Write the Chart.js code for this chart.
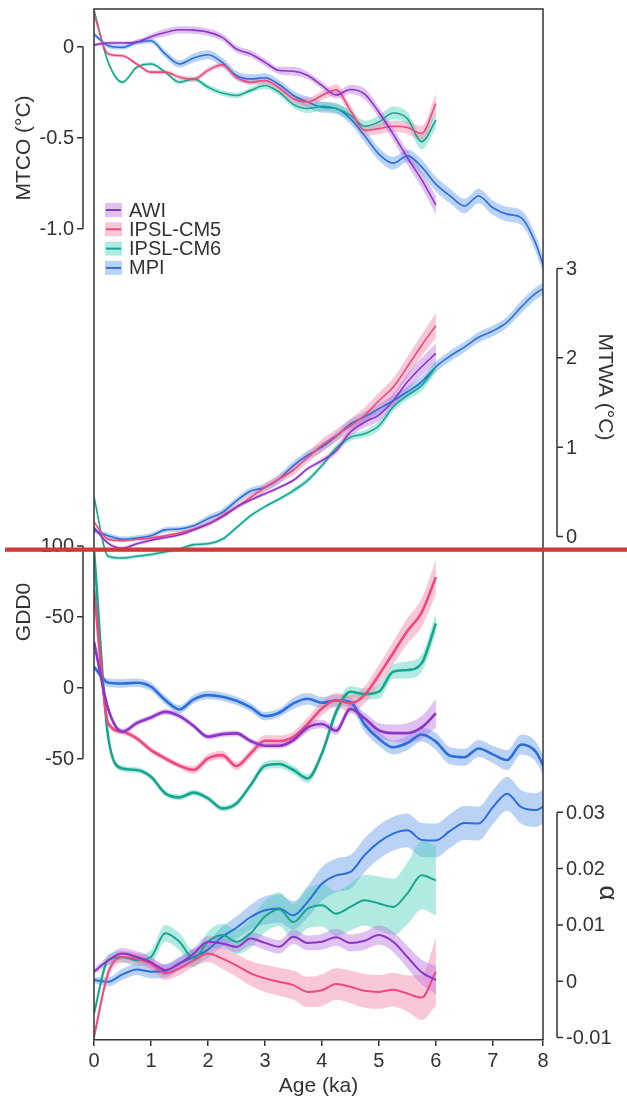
<!DOCTYPE html>
<html>
<head>
<meta charset="utf-8">
<script src="https://cdn.jsdelivr.net/npm/chart.js@4.4.0/dist/chart.umd.min.js"></script>
<style>
  html, body { margin: 0; padding: 0; background: #fff; }
  canvas { display: block; }
</style>
</head>
<body>
<canvas id="chart" width="627" height="1101"></canvas>
<script>
// Age axis (ka)
const ages6 = [0, 0.25, 0.5, 0.75, 1, 1.25, 1.5, 1.75, 2, 2.25, 2.5, 2.75, 3, 3.25, 3.5, 3.75, 4, 4.25, 4.5, 4.75, 5, 5.25, 5.5, 5.75, 6];
const ages8 = [0, 0.25, 0.5, 0.75, 1, 1.25, 1.5, 1.75, 2, 2.25, 2.5, 2.75, 3, 3.25, 3.5, 3.75, 4, 4.25, 4.5, 4.75, 5, 5.25, 5.5, 5.75, 6, 6.25, 6.5, 6.75, 7, 7.25, 7.5, 7.75, 8];

// MTCO (°C)
const mtcoAWI = [0.01, 0.02, 0.02, 0.025, 0.055, 0.078, 0.093, 0.091, 0.08, 0.051, -0.013, -0.04, -0.086, -0.131, -0.135, -0.158, -0.213, -0.265, -0.235, -0.26, -0.36, -0.48, -0.61, -0.73, -0.87];
const mtcoCM5 = [0.18, -0.04, -0.05, -0.095, -0.14, -0.14, -0.168, -0.18, -0.13, -0.10, -0.168, -0.195, -0.186, -0.226, -0.286, -0.304, -0.268, -0.237, -0.35, -0.46, -0.45, -0.437, -0.444, -0.477, -0.313];
const mtcoCM6 = [0.2, -0.086, -0.195, -0.113, -0.095, -0.14, -0.195, -0.177, -0.222, -0.255, -0.268, -0.24, -0.213, -0.25, -0.317, -0.34, -0.328, -0.34, -0.377, -0.437, -0.413, -0.364, -0.395, -0.523, -0.404];
const mtcoMPI = [0.069, 0.005, -0.004, 0.024, 0.033, -0.04, -0.095, -0.062, -0.044, -0.086, -0.158, -0.177, -0.171, -0.208, -0.268, -0.304, -0.332, -0.34, -0.395, -0.49, -0.59, -0.64, -0.60, -0.66, -0.755, -0.82, -0.875, -0.82, -0.885, -0.92, -0.94, -1.08, -1.32];
const mtcoAWIs = [0.01, 0.01, 0.01, 0.012, 0.015, 0.02, 0.02, 0.02, 0.02, 0.02, 0.02, 0.02, 0.02, 0.02, 0.025, 0.02, 0.02, 0.02, 0.025, 0.03, 0.03, 0.035, 0.04, 0.045, 0.05];
const mtcoCM5s = [0.01, 0.01, 0.01, 0.01, 0.01, 0.012, 0.012, 0.015, 0.015, 0.015, 0.015, 0.015, 0.02, 0.02, 0.02, 0.025, 0.025, 0.03, 0.03, 0.03, 0.03, 0.03, 0.035, 0.04, 0.055];
const mtcoCM6s = [0.01, 0.01, 0.01, 0.01, 0.01, 0.01, 0.012, 0.012, 0.015, 0.015, 0.015, 0.015, 0.02, 0.02, 0.02, 0.025, 0.025, 0.025, 0.03, 0.03, 0.035, 0.035, 0.035, 0.04, 0.045];
const mtcoMPIs = [0.01, 0.012, 0.012, 0.015, 0.015, 0.02, 0.02, 0.025, 0.025, 0.025, 0.025, 0.025, 0.025, 0.025, 0.025, 0.03, 0.03, 0.03, 0.03, 0.035, 0.035, 0.035, 0.035, 0.04, 0.04, 0.04, 0.04, 0.04, 0.04, 0.04, 0.04, 0.045, 0.045];

// MTWA (°C)
const mtwaAWI = [0.10, -0.075, -0.13, -0.08, -0.04, -0.01, 0.02, 0.075, 0.14, 0.22, 0.33, 0.41, 0.48, 0.55, 0.63, 0.76, 0.85, 0.96, 1.17, 1.28, 1.36, 1.52, 1.73, 1.90, 2.05];
const mtwaCM5 = [0.16, -0.03, -0.045, -0.03, -0.015, 0.01, 0.04, 0.085, 0.14, 0.235, 0.33, 0.44, 0.55, 0.645, 0.745, 0.885, 1.02, 1.13, 1.24, 1.355, 1.52, 1.67, 1.90, 2.14, 2.36];
const mtwaCM6 = [0.44, -0.22, -0.24, -0.22, -0.2, -0.17, -0.14, -0.09, -0.08, -0.03, 0.10, 0.235, 0.335, 0.42, 0.515, 0.63, 0.795, 0.99, 1.11, 1.15, 1.24, 1.45, 1.58, 1.69, 1.90];
const mtwaMPI = [0.07, 0.01, -0.03, -0.015, 0.01, 0.075, 0.085, 0.12, 0.2, 0.27, 0.40, 0.51, 0.55, 0.645, 0.795, 0.91, 1.0, 1.12, 1.26, 1.34, 1.43, 1.52, 1.62, 1.73, 1.90, 2.02, 2.12, 2.23, 2.30, 2.40, 2.57, 2.72, 2.81];
const mtwaAWIs = [0.02, 0.02, 0.02, 0.02, 0.02, 0.02, 0.02, 0.02, 0.02, 0.02, 0.02, 0.02, 0.02, 0.02, 0.02, 0.02, 0.03, 0.04, 0.05, 0.06, 0.07, 0.08, 0.09, 0.1, 0.11];
const mtwaCM5s = [0.02, 0.02, 0.02, 0.02, 0.02, 0.02, 0.02, 0.02, 0.03, 0.03, 0.03, 0.04, 0.05, 0.05, 0.06, 0.06, 0.07, 0.07, 0.08, 0.09, 0.09, 0.1, 0.11, 0.12, 0.14];
const mtwaCM6s = [0.02, 0.02, 0.02, 0.02, 0.02, 0.02, 0.02, 0.02, 0.02, 0.02, 0.02, 0.02, 0.02, 0.02, 0.03, 0.03, 0.03, 0.04, 0.04, 0.04, 0.05, 0.05, 0.05, 0.06, 0.06];
const mtwaMPIs = [0.03, 0.03, 0.03, 0.03, 0.03, 0.03, 0.03, 0.03, 0.04, 0.04, 0.04, 0.04, 0.04, 0.05, 0.05, 0.05, 0.05, 0.05, 0.05, 0.06, 0.06, 0.06, 0.06, 0.06, 0.06, 0.06, 0.06, 0.06, 0.06, 0.06, 0.07, 0.07, 0.07];

// GDD0
const gddAWI = [32.4, -15, -31, -25, -21, -17, -20, -27, -34.6, -32.7, -32.2, -37.6, -40.9, -40.9, -36.9, -28, -25.6, -30.3, -15, -21.5, -30, -32, -32, -28, -18];
const gddCM5 = [68.9, -25, -31, -35.7, -44, -49.8, -55, -58, -49.8, -47.5, -55.2, -46.3, -37.4, -37.6, -34.6, -25.6, -14.6, -8.7, -11, -5, 9, 24.5, 40, 53, 78];
const gddCM6 = [97, -35, -57, -58, -62.8, -74.5, -77.3, -74, -78, -85.1, -81.6, -68.6, -55, -53.8, -58, -64, -46.3, -17, -2.8, -4.5, -2.8, 11.3, 12.5, 17.2, 45.4];
const gddMPI = [14.8, 3.5, 3, 3.5, 0.7, -8.7, -15.3, -8.2, -5.2, -6.3, -9.2, -13.9, -20, -17.6, -11, -7.8, -10.6, -9, -10, -26, -36, -42, -39, -33, -38, -48, -49, -42.8, -47, -51, -40, -45, -65];
const gddAWIs = [1, 2, 2, 2, 2, 2, 2, 2, 2, 2, 2, 2, 2, 2, 2, 3, 3, 3, 3, 4, 5, 6, 7, 8, 10];
const gddCM5s = [1, 2, 2, 2, 2, 2, 2, 3, 3, 3, 3, 3, 4, 4, 4, 5, 5, 5, 6, 6, 7, 8, 9, 10, 12];
const gddCM6s = [1, 2, 2, 2, 2, 2, 2, 2, 2, 2, 2, 2, 3, 3, 3, 3, 3, 4, 4, 4, 5, 5, 6, 6, 7];
const gddMPIs = [2, 3, 3, 3, 3, 3, 3, 3, 3, 3, 3, 3, 3, 3, 4, 4, 4, 4, 4, 5, 5, 5, 5, 5, 6, 6, 6, 6, 6, 7, 7, 7, 7];

// alpha
const alphaAWI = [0.0017, 0.0037, 0.0049, 0.0043, 0.0034, 0.002, 0.0031, 0.0049, 0.007, 0.0067, 0.0061, 0.0076, 0.0068, 0.0061, 0.0079, 0.0068, 0.007, 0.0078, 0.0068, 0.0072, 0.0082, 0.007, 0.0043, 0.0016, 0.0002];
const alphaCM5 = [-0.0099, 0.0015, 0.0043, 0.004, 0.0031, 0.0014, 0.0023, 0.0037, 0.0049, 0.004, 0.0028, 0.0014, 0.0005, -0.0001, -0.0007, -0.0019, -0.0016, -0.0005, -0.001, -0.0017, -0.0019, -0.0015, -0.0022, -0.0029, 0.0017];
const alphaCM6 = [-0.0057, 0.0038, 0.0043, 0.0037, 0.0043, 0.0085, 0.007, 0.004, 0.007, 0.0082, 0.007, 0.0085, 0.0115, 0.0128, 0.0105, 0.0129, 0.0135, 0.012, 0.0132, 0.0144, 0.0138, 0.0132, 0.0156, 0.0188, 0.0179];
const alphaMPI = [0.0002, -0.0001, 0.0012, 0.0021, 0.0017, 0.0018, 0.0032, 0.0043, 0.0056, 0.0079, 0.0095, 0.0114, 0.0126, 0.0129, 0.0117, 0.0141, 0.0173, 0.0188, 0.0194, 0.0224, 0.0247, 0.0262, 0.0268, 0.0251, 0.025, 0.0267, 0.0281, 0.028, 0.0309, 0.0333, 0.0309, 0.0304, 0.032];
const alphaAWIs = [0.0005, 0.0008, 0.001, 0.001, 0.001, 0.001, 0.001, 0.001, 0.001, 0.001, 0.001, 0.0012, 0.0012, 0.0012, 0.0013, 0.0013, 0.0014, 0.0015, 0.0015, 0.0016, 0.0017, 0.0018, 0.002, 0.0022, 0.0025];
const alphaCM5s = [0.0005, 0.001, 0.001, 0.001, 0.001, 0.0012, 0.0012, 0.0012, 0.0015, 0.0018, 0.002, 0.0022, 0.0024, 0.0025, 0.0026, 0.0027, 0.0028, 0.0028, 0.0029, 0.003, 0.003, 0.003, 0.0032, 0.004, 0.006];
const alphaCM6s = [0.0005, 0.001, 0.001, 0.001, 0.0012, 0.0015, 0.0015, 0.0015, 0.0018, 0.002, 0.0022, 0.0025, 0.0028, 0.003, 0.0032, 0.0035, 0.0038, 0.004, 0.0042, 0.0045, 0.0048, 0.005, 0.0055, 0.006, 0.0062];
const alphaMPIs = [0.0005, 0.0008, 0.001, 0.001, 0.0012, 0.0012, 0.0012, 0.0015, 0.0015, 0.0018, 0.002, 0.0022, 0.0025, 0.0025, 0.0025, 0.0028, 0.003, 0.003, 0.003, 0.003, 0.003, 0.003, 0.003, 0.003, 0.003, 0.003, 0.003, 0.003, 0.003, 0.003, 0.003, 0.003, 0.003];

const modelNames = ['AWI', 'IPSL-CM5', 'IPSL-CM6', 'MPI'];
const lineColors = ['#8c35c6', '#f0487c', '#16a68e', '#2b6fdc'];
const bandColors = ['rgba(180,110,225,0.42)', 'rgba(244,130,168,0.45)', 'rgba(70,205,180,0.42)', 'rgba(100,155,235,0.45)'];

// tick labels
const xMax = 7.88; // the "8" tick of the original sits on the right frame edge
const xTickValues = [0, 1, 2, 3, 4, 5, 6, 7, xMax];
const xTickLabels = ['0', '1', '2', '3', '4', '5', '6', '7', '8'];
const mtcoTicks = [0, -0.5, -1.0];
const mtcoTickLabels = ['0', '-0.5', '-1.0'];
const mtwaTicks = [3, 2, 1, 0];
const mtwaTickLabels = ['3', '2', '1', '0'];
const gddTicks = [100, 50, 0, -50];
const gddTickLabels = ['100', '-50', '0', '-50'];
const alphaTicks = [0.03, 0.02, 0.01, 0, -0.01];
const alphaTickLabels = ['0.03', '0.02', '0.01', '0', '-0.01'];

const FONT = "'Liberation Sans', Arial, sans-serif";
const INK = '#333';

var panels = [
    { axis: 'yMTCO', width: 1.6, series: [[ages6, mtcoAWI, mtcoAWIs], [ages6, mtcoCM5, mtcoCM5s], [ages6, mtcoCM6, mtcoCM6s], [ages8, mtcoMPI, mtcoMPIs]] },
    { axis: 'yMTWA', width: 1.6, series: [[ages6, mtwaAWI, mtwaAWIs], [ages6, mtwaCM5, mtwaCM5s], [ages6, mtwaCM6, mtwaCM6s], [ages8, mtwaMPI, mtwaMPIs]] },
    { axis: 'yGDD', width: 2.6, series: [[ages6, gddAWI, gddAWIs], [ages6, gddCM5, gddCM5s], [ages6, gddCM6, gddCM6s], [ages8, gddMPI, gddMPIs]] },
    { axis: 'yAlpha', width: 2.0, series: [[ages6, alphaAWI, alphaAWIs], [ages6, alphaCM5, alphaCM5s], [ages6, alphaCM6, alphaCM6s], [ages8, alphaMPI, alphaMPIs]] }
];

var datasets = [];
panels.forEach(function (p) {
    p.series.forEach(function (s, m) {
        var xs = s[0], vals = s[1], spread = s[2];
        // upper edge of the band
        datasets.push({
            data: xs.map((a, i) => ({ x: a, y: vals[i] + spread[i] })),
            yAxisID: p.axis, borderColor: 'rgba(0,0,0,0)', borderWidth: 0, pointRadius: 0,
            fill: false, cubicInterpolationMode: 'monotone', order: 2
        });
        // lower edge, filled up to the previous dataset
        datasets.push({
            data: xs.map((a, i) => ({ x: a, y: vals[i] - spread[i] })),
            yAxisID: p.axis, borderColor: 'rgba(0,0,0,0)', borderWidth: 0, pointRadius: 0,
            fill: '-1', backgroundColor: bandColors[m], cubicInterpolationMode: 'monotone', order: 2
        });
        datasets.push({
            label: modelNames[m],
            data: xs.map((a, i) => ({ x: a, y: vals[i] })),
            yAxisID: p.axis, borderColor: lineColors[m], borderWidth: p.width, pointRadius: 0,
            fill: false, cubicInterpolationMode: 'monotone', order: 1
        });
    });
});

// brackets, frame, legend, titles and the red rule
var decorations = {
    id: 'decorations',
    afterDraw: function (chart) {
        const ctx = chart.ctx;
        const area = chart.chartArea;
        ctx.save();

        // frame: left, top, right
        ctx.strokeStyle = INK;
        ctx.lineWidth = 1.5;
        ctx.beginPath();
        ctx.moveTo(area.left, area.bottom);
        ctx.lineTo(area.left, area.top);
        ctx.lineTo(area.right, area.top);
        ctx.lineTo(area.right, area.bottom);
        ctx.stroke();

        function bracket(scaleId, ticks, labels, side, x) {
            const scale = chart.scales[scaleId];
            const y0 = scale.getPixelForValue(ticks[0]);
            const y1 = scale.getPixelForValue(ticks[ticks.length - 1]);
            const dir = side === 'left' ? -1 : 1;
            ctx.strokeStyle = INK;
            ctx.lineWidth = 1.5;
            ctx.beginPath();
            ctx.moveTo(x, y0);
            ctx.lineTo(x, y1);
            ticks.forEach(function (t) {
                const y = scale.getPixelForValue(t);
                ctx.moveTo(x, y);
                ctx.lineTo(x + dir * 6, y);
            });
            ctx.stroke();
            ctx.fillStyle = INK;
            ctx.font = '20px ' + FONT;
            ctx.textBaseline = 'middle';
            ctx.textAlign = side === 'left' ? 'right' : 'left';
            ticks.forEach(function (t, i) {
                ctx.fillText(labels[i], x + dir * 9, scale.getPixelForValue(t) + 1);
            });
        }
        bracket('yMTCO', mtcoTicks, mtcoTickLabels, 'left', 83);
        bracket('yGDD', gddTicks, gddTickLabels, 'left', 83);
        bracket('yMTWA', mtwaTicks, mtwaTickLabels, 'right', 557);
        bracket('yAlpha', alphaTicks, alphaTickLabels, 'right', 557);

        function vtitle(text, x, y, angle, size) {
            ctx.save();
            ctx.translate(x, y);
            ctx.rotate(angle);
            ctx.fillStyle = INK;
            ctx.font = size + 'px ' + FONT;
            ctx.textAlign = 'center';
            ctx.textBaseline = 'middle';
            ctx.fillText(text, 0, 0);
            ctx.restore();
        }
        vtitle('MTCO (°C)', 24, 148, -Math.PI / 2, 21);
        vtitle('GDD0', 24, 612, -Math.PI / 2, 21);
        vtitle('MTWA (°C)', 605, 387, Math.PI / 2, 21);
        vtitle('α', 607, 893, Math.PI / 2, 26);

        // legend
        modelNames.forEach(function (name, i) {
            const cy = 210 + i * 19.3;
            ctx.fillStyle = bandColors[i];
            ctx.fillRect(105, cy - 7, 17, 14);
            ctx.strokeStyle = lineColors[i];
            ctx.lineWidth = 2;
            ctx.beginPath();
            ctx.moveTo(106, cy);
            ctx.lineTo(121, cy);
            ctx.stroke();
            ctx.fillStyle = INK;
            ctx.font = '20px ' + FONT;
            ctx.textAlign = 'left';
            ctx.textBaseline = 'middle';
            ctx.fillText(name, 129, cy + 1);
        });

        // red horizontal rule across the figure
        ctx.fillStyle = '#d03a3a';
        ctx.fillRect(5, 547.5, 622, 4.3);
        ctx.restore();
    }
};

var yHidden = function (min, max) {
    return { type: 'linear', display: false, min: min, max: max };
};

var myChart = new Chart(document.getElementById('chart').getContext('2d'), {
    type: 'line',
    data: { datasets: datasets },
    options: {
        responsive: false,
        animation: false,
        devicePixelRatio: 1,
        layout: { padding: { left: 94, right: 84, top: 9, bottom: 0 } },
        plugins: { legend: { display: false }, tooltip: { enabled: false } },
        scales: {
            x: {
                type: 'linear',
                min: 0,
                max: xMax,
                afterBuildTicks: function (scale) {
                    scale.ticks = xTickValues.map(v => ({ value: v }));
                },
                afterFit: function (scale) { scale.height = 61; },
                ticks: {
                    autoSkip: false,
                    maxRotation: 0,
                    padding: 3,
                    color: INK,
                    font: { family: FONT, size: 20 },
                    callback: function (value, index) { return xTickLabels[index]; }
                },
                grid: { drawOnChartArea: false, drawTicks: true, tickLength: 6, color: INK, lineWidth: 1.5 },
                border: { display: true, color: INK, width: 1.5 },
                title: { display: true, text: 'Age (ka)', color: INK, font: { family: FONT, size: 21 }, padding: { top: 0, bottom: 2 } }
            },
            yMTCO: yHidden(-5.4577, 0.2071),
            yMTWA: yHidden(-5.6309, 5.9016),
            yGDD: yHidden(-248.4, 478.6),
            yAlpha: yHidden(-0.010444, 0.17268)
        }
    },
    plugins: [decorations]
});
</script>
</body>
</html>
